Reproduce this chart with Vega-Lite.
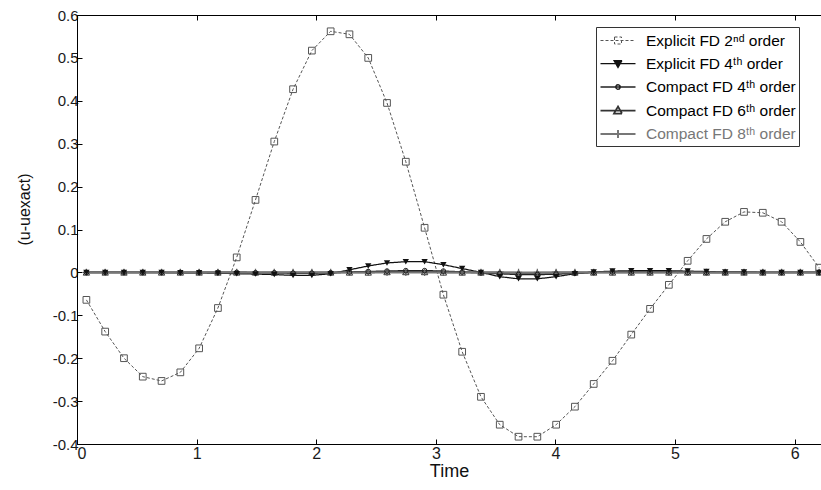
{
  "$schema": "https://vega.github.io/schema/vega-lite/v6.json",
  "width": 744,
  "height": 429,
  "autosize": {"type": "none"},
  "padding": {"left": 77, "top": 15, "right": 0, "bottom": 46},
  "background": "white",
  "config": {
    "font": "Liberation Sans",
    "view": {"stroke": "#000", "strokeWidth": 1},
    "axis": {"grid": false, "domainColor": "#000", "tickColor": "#000", "labelColor": "#1a1a1a", "titleColor": "#111", "titleFontWeight": "normal", "labelFont": "Liberation Sans", "titleFont": "Liberation Sans"}
  },
  "data": {"values": [
    {"t":0.0785,"s":"e2","v":-0.064},{"t":0.2356,"s":"e2","v":-0.138},{"t":0.3927,"s":"e2","v":-0.200},{"t":0.5498,"s":"e2","v":-0.243},{"t":0.7069,"s":"e2","v":-0.253},{"t":0.8639,"s":"e2","v":-0.233},{"t":1.0210,"s":"e2","v":-0.177},{"t":1.1781,"s":"e2","v":-0.083},{"t":1.3352,"s":"e2","v":0.035},{"t":1.4923,"s":"e2","v":0.169},{"t":1.6493,"s":"e2","v":0.305},{"t":1.8064,"s":"e2","v":0.427},{"t":1.9635,"s":"e2","v":0.517},{"t":2.1206,"s":"e2","v":0.562},{"t":2.2777,"s":"e2","v":0.555},{"t":2.4347,"s":"e2","v":0.500},{"t":2.5918,"s":"e2","v":0.395},{"t":2.7489,"s":"e2","v":0.258},{"t":2.9060,"s":"e2","v":0.104},{"t":3.0631,"s":"e2","v":-0.052},{"t":3.2201,"s":"e2","v":-0.185},{"t":3.3772,"s":"e2","v":-0.290},{"t":3.5343,"s":"e2","v":-0.355},{"t":3.6914,"s":"e2","v":-0.383},{"t":3.8485,"s":"e2","v":-0.383},{"t":4.0055,"s":"e2","v":-0.355},{"t":4.1626,"s":"e2","v":-0.313},{"t":4.3197,"s":"e2","v":-0.260},{"t":4.4768,"s":"e2","v":-0.206},{"t":4.6338,"s":"e2","v":-0.145},{"t":4.7909,"s":"e2","v":-0.085},{"t":4.9480,"s":"e2","v":-0.029},{"t":5.1051,"s":"e2","v":0.027},{"t":5.2622,"s":"e2","v":0.078},{"t":5.4192,"s":"e2","v":0.118},{"t":5.5763,"s":"e2","v":0.141},{"t":5.7334,"s":"e2","v":0.139},{"t":5.8905,"s":"e2","v":0.118},{"t":6.0476,"s":"e2","v":0.071},{"t":6.2046,"s":"e2","v":0.011},
    {"t":0.0785,"s":"e4","v":0},{"t":0.2356,"s":"e4","v":0},{"t":0.3927,"s":"e4","v":0},{"t":0.5498,"s":"e4","v":0},{"t":0.7069,"s":"e4","v":0},{"t":0.8639,"s":"e4","v":-0.001},{"t":1.0210,"s":"e4","v":-0.001},{"t":1.1781,"s":"e4","v":-0.002},{"t":1.3352,"s":"e4","v":-0.003},{"t":1.4923,"s":"e4","v":-0.004},{"t":1.6493,"s":"e4","v":-0.005},{"t":1.8064,"s":"e4","v":-0.007},{"t":1.9635,"s":"e4","v":-0.007},{"t":2.1206,"s":"e4","v":-0.003},{"t":2.2777,"s":"e4","v":0.006},{"t":2.4347,"s":"e4","v":0.015},{"t":2.5918,"s":"e4","v":0.022},{"t":2.7489,"s":"e4","v":0.025},{"t":2.9060,"s":"e4","v":0.025},{"t":3.0631,"s":"e4","v":0.018},{"t":3.2201,"s":"e4","v":0.009},{"t":3.3772,"s":"e4","v":0.000},{"t":3.5343,"s":"e4","v":-0.010},{"t":3.6914,"s":"e4","v":-0.015},{"t":3.8485,"s":"e4","v":-0.015},{"t":4.0055,"s":"e4","v":-0.010},{"t":4.1626,"s":"e4","v":-0.003},{"t":4.3197,"s":"e4","v":0.001},{"t":4.4768,"s":"e4","v":0.003},{"t":4.6338,"s":"e4","v":0.004},{"t":4.7909,"s":"e4","v":0.004},{"t":4.9480,"s":"e4","v":0.004},{"t":5.1051,"s":"e4","v":0.003},{"t":5.2622,"s":"e4","v":0.002},{"t":5.4192,"s":"e4","v":0.001},{"t":5.5763,"s":"e4","v":0.001},{"t":5.7334,"s":"e4","v":0},{"t":5.8905,"s":"e4","v":0},{"t":6.0476,"s":"e4","v":0},{"t":6.2046,"s":"e4","v":0},
    {"t":0.0785,"s":"c4","v":0},{"t":0.2356,"s":"c4","v":0},{"t":0.3927,"s":"c4","v":0},{"t":0.5498,"s":"c4","v":0},{"t":0.7069,"s":"c4","v":0},{"t":0.8639,"s":"c4","v":0},{"t":1.0210,"s":"c4","v":0},{"t":1.1781,"s":"c4","v":0},{"t":1.3352,"s":"c4","v":0},{"t":1.4923,"s":"c4","v":-0.001},{"t":1.6493,"s":"c4","v":-0.001},{"t":1.8064,"s":"c4","v":-0.002},{"t":1.9635,"s":"c4","v":-0.002},{"t":2.1206,"s":"c4","v":-0.001},{"t":2.2777,"s":"c4","v":0.001},{"t":2.4347,"s":"c4","v":0.002},{"t":2.5918,"s":"c4","v":0.003},{"t":2.7489,"s":"c4","v":0.004},{"t":2.9060,"s":"c4","v":0.004},{"t":3.0631,"s":"c4","v":0.003},{"t":3.2201,"s":"c4","v":0.001},{"t":3.3772,"s":"c4","v":-0.001},{"t":3.5343,"s":"c4","v":-0.003},{"t":3.6914,"s":"c4","v":-0.005},{"t":3.8485,"s":"c4","v":-0.005},{"t":4.0055,"s":"c4","v":-0.004},{"t":4.1626,"s":"c4","v":-0.002},{"t":4.3197,"s":"c4","v":0},{"t":4.4768,"s":"c4","v":0.001},{"t":4.6338,"s":"c4","v":0.001},{"t":4.7909,"s":"c4","v":0.001},{"t":4.9480,"s":"c4","v":0.001},{"t":5.1051,"s":"c4","v":0},{"t":5.2622,"s":"c4","v":0},{"t":5.4192,"s":"c4","v":0},{"t":5.5763,"s":"c4","v":0},{"t":5.7334,"s":"c4","v":0},{"t":5.8905,"s":"c4","v":0},{"t":6.0476,"s":"c4","v":0},{"t":6.2046,"s":"c4","v":0},
    {"t":0.0785,"s":"c6","v":0},{"t":0.2356,"s":"c6","v":0},{"t":0.3927,"s":"c6","v":0},{"t":0.5498,"s":"c6","v":0},{"t":0.7069,"s":"c6","v":0},{"t":0.8639,"s":"c6","v":0},{"t":1.0210,"s":"c6","v":0},{"t":1.1781,"s":"c6","v":0},{"t":1.3352,"s":"c6","v":0},{"t":1.4923,"s":"c6","v":0},{"t":1.6493,"s":"c6","v":0},{"t":1.8064,"s":"c6","v":0},{"t":1.9635,"s":"c6","v":0},{"t":2.1206,"s":"c6","v":0},{"t":2.2777,"s":"c6","v":0},{"t":2.4347,"s":"c6","v":0},{"t":2.5918,"s":"c6","v":0.001},{"t":2.7489,"s":"c6","v":0.001},{"t":2.9060,"s":"c6","v":0.001},{"t":3.0631,"s":"c6","v":0},{"t":3.2201,"s":"c6","v":0},{"t":3.3772,"s":"c6","v":0},{"t":3.5343,"s":"c6","v":0},{"t":3.6914,"s":"c6","v":-0.001},{"t":3.8485,"s":"c6","v":-0.001},{"t":4.0055,"s":"c6","v":0},{"t":4.1626,"s":"c6","v":0},{"t":4.3197,"s":"c6","v":0},{"t":4.4768,"s":"c6","v":0},{"t":4.6338,"s":"c6","v":0},{"t":4.7909,"s":"c6","v":0},{"t":4.9480,"s":"c6","v":0},{"t":5.1051,"s":"c6","v":0},{"t":5.2622,"s":"c6","v":0},{"t":5.4192,"s":"c6","v":0},{"t":5.5763,"s":"c6","v":0},{"t":5.7334,"s":"c6","v":0},{"t":5.8905,"s":"c6","v":0},{"t":6.0476,"s":"c6","v":0},{"t":6.2046,"s":"c6","v":0},
    {"t":0.0785,"s":"c8","v":0},{"t":0.2356,"s":"c8","v":0},{"t":0.3927,"s":"c8","v":0},{"t":0.5498,"s":"c8","v":0},{"t":0.7069,"s":"c8","v":0},{"t":0.8639,"s":"c8","v":0},{"t":1.0210,"s":"c8","v":0},{"t":1.1781,"s":"c8","v":0},{"t":1.3352,"s":"c8","v":0},{"t":1.4923,"s":"c8","v":0},{"t":1.6493,"s":"c8","v":0},{"t":1.8064,"s":"c8","v":0},{"t":1.9635,"s":"c8","v":0},{"t":2.1206,"s":"c8","v":0},{"t":2.2777,"s":"c8","v":0},{"t":2.4347,"s":"c8","v":0},{"t":2.5918,"s":"c8","v":0},{"t":2.7489,"s":"c8","v":0},{"t":2.9060,"s":"c8","v":0},{"t":3.0631,"s":"c8","v":0},{"t":3.2201,"s":"c8","v":0},{"t":3.3772,"s":"c8","v":0},{"t":3.5343,"s":"c8","v":0},{"t":3.6914,"s":"c8","v":0},{"t":3.8485,"s":"c8","v":0},{"t":4.0055,"s":"c8","v":0},{"t":4.1626,"s":"c8","v":0},{"t":4.3197,"s":"c8","v":0},{"t":4.4768,"s":"c8","v":0},{"t":4.6338,"s":"c8","v":0},{"t":4.7909,"s":"c8","v":0},{"t":4.9480,"s":"c8","v":0},{"t":5.1051,"s":"c8","v":0},{"t":5.2622,"s":"c8","v":0},{"t":5.4192,"s":"c8","v":0},{"t":5.5763,"s":"c8","v":0},{"t":5.7334,"s":"c8","v":0},{"t":5.8905,"s":"c8","v":0},{"t":6.0476,"s":"c8","v":0},{"t":6.2046,"s":"c8","v":0}
  ]},
  "layer": [
    {
      "mark": {"type": "line", "clip": true},
      "encoding": {
        "x": {"field": "t", "type": "quantitative", "scale": {"domain": [0, 6.22], "nice": false, "zero": false},
          "axis": {"orient": "bottom", "title": "Time", "values": [0,1,2,3,4,5,6], "tickSize": -5, "labelPadding": 6, "labelFontSize": 16, "titleFontSize": 18, "titlePadding": 1}},
        "y": {"field": "v", "type": "quantitative", "scale": {"domain": [-0.4, 0.6], "nice": false, "zero": false},
          "axis": {"title": "(u-uexact)", "values": [-0.4,-0.3,-0.2,-0.1,0,0.1,0.2,0.3,0.4,0.5,0.6], "labelExpr": "'' + round(datum.value*10)/10", "tickSize": -5, "labelPadding": 4, "labelFontSize": 15, "titleFontSize": 16, "titlePadding": 20, "titleY": 194}},
        "color": {"field": "s", "type": "nominal",
          "scale": {"domain": ["e2","e4","c4","c6","c8"], "range": ["#555555","#111111","#222222","#333333","#777777"]},
          "legend": {
            "title": null, "orient": "none", "legendX": 519, "legendY": 12,
            "padding": 3, "strokeColor": "#333", "fillColor": "white",
            "symbolSize": 400, "symbolOffset": 8, "labelOffset": 17, "rowPadding": 3.5,
            "labelFontSize": 15.5, "labelFont": "Liberation Sans", "labelColor": "#000",
            "symbolStrokeWidth": 1, "symbolType": "stroke",
            "labelExpr": "datum.value=='e2' ? 'Explicit FD 2ⁿᵈ order' : datum.value=='e4' ? 'Explicit FD 4ᵗʰ order' : datum.value=='c4' ? 'Compact FD 4ᵗʰ order' : datum.value=='c6' ? 'Compact FD 6ᵗʰ order' : 'Compact FD 8ᵗʰ order'",
            "encode": {
              "symbols": {"update": {
                "shape": {"signal": "datum.value=='e2' ? 'M-1.75,0H1.75M-0.35,-0.35H0.35V0.35H-0.35Z' : datum.value=='e4' ? 'M-1.75,0H1.75M-0.4,-0.3L0.4,-0.3L0,0.4Z' : datum.value=='c4' ? 'M-1.75,0H1.75M-0.22,0A0.22,0.22,0,1,0,0.22,0A0.22,0.22,0,1,0,-0.22,0Z' : datum.value=='c6' ? 'M-1.75,0H1.75M-0.4,0.3L0.4,0.3L0,-0.4Z' : 'M-1.75,0H1.75M0,-0.4V0.4'"},
                "strokeDash": {"signal": "datum.value=='e2' ? [2,2] : [1,0]"},
                "fill": {"signal": "datum.value=='e4' ? '#111111' : 'transparent'"},
                "strokeWidth": {"value": 1.2}
              }},
              "labels": {"update": {"fill": {"signal": "datum.value=='c8' ? '#777777' : '#000000'"}}}
            }
          }
        },
        "strokeDash": {"field": "s", "type": "nominal", "scale": {"domain": ["e2","e4","c4","c6","c8"], "range": [[3,2],[1,0],[1,0],[1,0],[1,0]]}, "legend": null},
        "strokeWidth": {"field": "s", "type": "ordinal", "scale": {"domain": ["e2","e4","c4","c6","c8"], "range": [1,2,1.8,1.8,1.8]}, "legend": null}
      }
    },
    {
      "transform": [{"filter": "datum.s == 'e2'"}],
      "mark": {"type": "point", "shape": "square", "size": 45, "filled": false, "strokeWidth": 1, "opacity": 1, "color": "#555555"},
      "encoding": {
        "x": {"field": "t", "type": "quantitative", "axis": {"orient": "top", "labels": false, "title": null, "tickSize": -5, "values": [0,1,2,3,4,5,6]}},
        "y": {"field": "v", "type": "quantitative"}
      }
    },
    {
      "transform": [{"filter": "datum.s == 'c6'"}],
      "mark": {"type": "point", "shape": "triangle-up", "size": 40, "filled": false, "strokeWidth": 1, "opacity": 1, "color": "#333333"},
      "encoding": {
        "x": {"field": "t", "type": "quantitative", "axis": null},
        "y": {"field": "v", "type": "quantitative"}
      }
    },
    {
      "transform": [{"filter": "datum.s == 'c8'"}],
      "mark": {"type": "point", "shape": "M-1,0H1M0,-1V1", "size": 50, "filled": false, "strokeWidth": 1.2, "opacity": 1, "color": "#666666"},
      "encoding": {
        "x": {"field": "t", "type": "quantitative", "axis": null},
        "y": {"field": "v", "type": "quantitative"}
      }
    },
    {
      "transform": [{"filter": "datum.s == 'c4'"}],
      "mark": {"type": "point", "shape": "circle", "size": 22, "filled": false, "strokeWidth": 1, "opacity": 1, "color": "#222222"},
      "encoding": {
        "x": {"field": "t", "type": "quantitative", "axis": null},
        "y": {"field": "v", "type": "quantitative"}
      }
    },
    {
      "transform": [{"filter": "datum.s == 'e4'"}],
      "mark": {"type": "point", "shape": "triangle-down", "size": 40, "filled": true, "opacity": 1, "color": "#111111"},
      "encoding": {
        "x": {"field": "t", "type": "quantitative", "axis": null},
        "y": {"field": "v", "type": "quantitative"}
      }
    }
  ],
  "resolve": {"axis": {"x": "independent"}}
}
